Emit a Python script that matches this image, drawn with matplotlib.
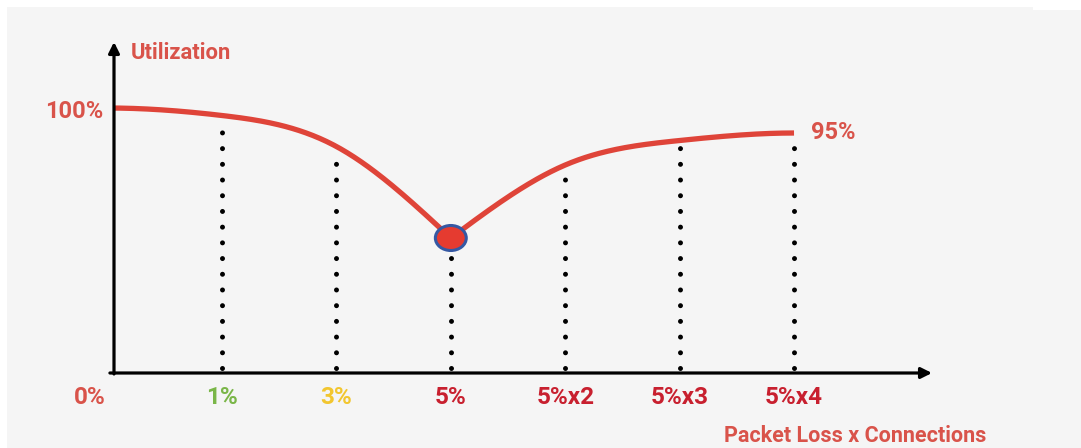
import numpy as np
import matplotlib.pyplot as plt
from matplotlib.patches import Rectangle, Ellipse

# loss levels along the x axis and the utilization reached at each
loss_labels = ["0%", "1%", "3%", "5%", "5%x2", "5%x3", "5%x4"]
utilization = [100, 98.5, 92.3, 74, 88.6, 93.5, 95]
min_idx = 3  # worst point, single connection at 5% loss

label_colors = ["#d9534a", "#7ab648", "#f2c62f", "#c8202f", "#c8202f", "#c8202f", "#c8202f"]
RED = "#df4439"
TXT_RED = "#d9534a"


def spline(x, y, xs, slope0=None, slope1=None):
    # cubic spline, clamped where a slope is given, natural otherwise
    x = np.asarray(x, float)
    y = np.asarray(y, float)
    n = len(x)
    h = np.diff(x)
    d = np.diff(y) / h
    A = np.zeros((n, n))
    r = np.zeros(n)
    for i in range(1, n - 1):
        A[i, i - 1] = h[i - 1]
        A[i, i] = 2 * (h[i - 1] + h[i])
        A[i, i + 1] = h[i]
        r[i] = 6 * (d[i] - d[i - 1])
    if slope0 is None:
        A[0, 0] = 1
    else:
        A[0, 0], A[0, 1] = 2 * h[0], h[0]
        r[0] = 6 * (d[0] - slope0)
    if slope1 is None:
        A[-1, -1] = 1
    else:
        A[-1, -2], A[-1, -1] = h[-1], 2 * h[-1]
        r[-1] = 6 * (slope1 - d[-1])
    M = np.linalg.solve(A, r)
    k = np.clip(np.searchsorted(x, xs) - 1, 0, n - 2)
    a = (x[k + 1] - xs) / h[k]
    b = (xs - x[k]) / h[k]
    return (a * y[k] + b * y[k + 1]
            + ((a**3 - a) * M[k] + (b**3 - b) * M[k + 1]) * h[k]**2 / 6)


fig = plt.figure(figsize=(10.81, 4.48), dpi=100, facecolor="white")
fig.patches.append(Rectangle((7 / 1081, 0), 1, 441 / 448, transform=fig.transFigure,
                             facecolor="#f5f5f5", edgecolor="none", zorder=-10))
fig.patches.append(Rectangle((1033 / 1081, 438 / 448), 1, 1, transform=fig.transFigure,
                             facecolor="white", edgecolor="none", zorder=-9))

ax = fig.add_axes([114 / 1081, 75 / 448, 818 / 1081, 331 / 448])
ax.set_facecolor("none")
ax.set_xlim(0.056, 7.206)
ax.set_ylim(47, 113.2)
for s in ax.spines.values():
    s.set_visible(False)
ax.set_xticks([])
ax.set_yticks([])

xs = np.arange(len(utilization))

# dotted drop lines from the curve to the axis
for i in xs[1:]:
    top = utilization[i] - (3.5 if i == min_idx else 1.0)
    ax.plot([i, i], [48, top], color="black", lw=3.6,
            linestyle=(0, (0.001, 3.14)), dash_capstyle="round", zorder=2)

# two branches of the curve meeting at the minimum
left = np.linspace(0, min_idx, 200)
ax.plot(left, spline(xs[:min_idx + 1], utilization[:min_idx + 1], left, slope0=0),
        color=RED, lw=3.8, solid_capstyle="butt", zorder=3)
right = np.linspace(min_idx, xs[-1], 200)
ax.plot(right, spline(xs[min_idx:], utilization[min_idx:], right, slope1=0),
        color=RED, lw=3.8, solid_capstyle="butt", zorder=3)

ax.add_patch(Ellipse((min_idx, utilization[min_idx]), 0.27, 5.0, facecolor="#e53b30",
                     edgecolor="#3558a3", lw=2.2, zorder=4))

# axes with arrow heads
arrow = dict(arrowstyle="-|>", lw=2.3, color="black", mutation_scale=16, shrinkA=0, shrinkB=0)
ax.annotate("", xy=(0, 1), xytext=(0, -0.003), xycoords="axes fraction", arrowprops=arrow)
ax.annotate("", xy=(1, 0), xytext=(-0.005, 0), xycoords="axes fraction", arrowprops=arrow)

font = dict(family="Roboto", fontweight="bold")

for i, (lab, col) in enumerate(zip(loss_labels, label_colors)):
    dx = -18 if i == 0 else 0
    ax.annotate(lab, xy=(i, 0), xycoords=("data", "axes fraction"), xytext=(dx, -24),
                textcoords="offset pixels", ha="center", va="center", color=col,
                fontsize=17.5, annotation_clip=False, **font)

ax.annotate("100%", xy=(0.056, utilization[0]), xytext=(-40, -4), textcoords="offset pixels",
            ha="center", va="center", color=TXT_RED, fontsize=17, annotation_clip=False, **font)
ax.annotate("95%", xy=(xs[-1], utilization[-1]), xytext=(39, 1), textcoords="offset pixels",
            ha="center", va="center", color=TXT_RED, fontsize=17, annotation_clip=False, **font)

fig.text(131 / 1081, 1 - 53 / 448, "Utilization", ha="left", va="center",
         color=TXT_RED, fontsize=15.8, **font)
fig.text(855 / 1081, 1 - 436 / 448, "Packet Loss x Connections", ha="center", va="center",
         color=TXT_RED, fontsize=15.5, **font)

fig.savefig("out.png", dpi=100, facecolor=fig.get_facecolor())
